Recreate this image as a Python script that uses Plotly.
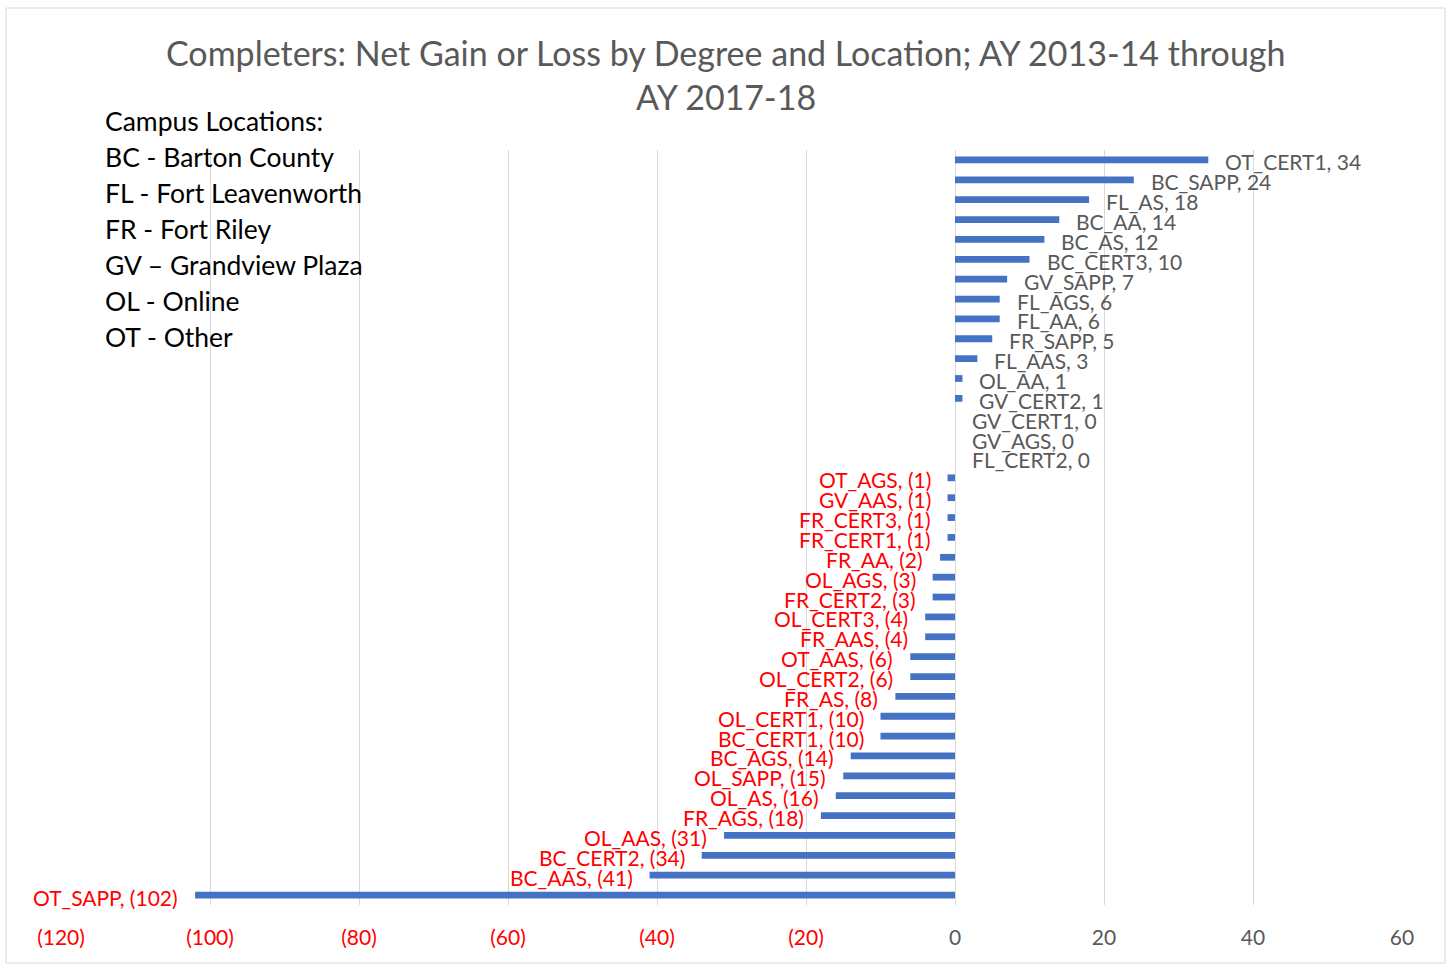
import plotly.graph_objects as go

categories = ["OT_CERT1", "BC_SAPP", "FL_AS", "BC_AA", "BC_AS", "BC_CERT3", "GV_SAPP",
              "FL_AGS", "FL_AA", "FR_SAPP", "FL_AAS", "OL_AA", "GV_CERT2", "GV_CERT1",
              "GV_AGS", "FL_CERT2", "OT_AGS", "GV_AAS", "FR_CERT3", "FR_CERT1", "FR_AA",
              "OL_AGS", "FR_CERT2", "OL_CERT3", "FR_AAS", "OT_AAS", "OL_CERT2", "FR_AS",
              "OL_CERT1", "BC_CERT1", "BC_AGS", "OL_SAPP", "OL_AS", "FR_AGS", "OL_AAS",
              "BC_CERT2", "BC_AAS", "OT_SAPP"]
values = [34, 24, 18, 14, 12, 10, 7, 6, 6, 5, 3, 1, 1, 0, 0, 0, -1, -1, -1, -1, -2,
          -3, -3, -4, -4, -6, -6, -8, -10, -10, -14, -15, -16, -18, -31, -34, -41, -102]
tick_values = [-120, -100, -80, -60, -40, -20, 0, 20, 40, 60]
legend_lines = ["Campus Locations:", "BC - Barton County", "FL - Fort Leavenworth",
                "FR - Fort Riley", "GV \u2013 Grandview Plaza", "OL - Online", "OT - Other"]
title_lines = ["Completers: Net Gain or Loss by Degree and Location; AY 2013-14 through",
               "AY 2017-18"]

FONT = "Lato"
GRAY = "#595959"
RED = "#FF0000"

# plot area in pixels
L, R, T, B = 61, 1402, 150, 905
W, H = R - L, B - T


def fmt(v):
    return f"({abs(v)})" if v < 0 else f"{v}"


fig = go.Figure()
fig.add_trace(go.Bar(
    y=categories, x=values, orientation="h",
    marker=dict(color="#4472C4", line=dict(width=0)),
    width=0.34, hoverinfo="x+y",
))

annotations = []
for c, v in zip(categories, values):
    neg = v < 0
    annotations.append(dict(
        x=v, y=c, xref="x", yref="y",
        text=f"{c}, {fmt(v)}", showarrow=False,
        xanchor="right" if neg else "left",
        xshift=-15 if neg else 15, yshift=-2,
        font=dict(family=FONT, size=21, color=RED if neg else GRAY),
    ))

# title lines
for i, t in enumerate(title_lines):
    annotations.append(dict(
        x=(726 - L) / W, y=(B - (52 + 45 * i)) / H, xref="paper", yref="paper",
        text=t, showarrow=False, xanchor="center", yanchor="middle",
        font=dict(family=FONT, size=34, color=GRAY),
    ))

# campus location key
for i, t in enumerate(legend_lines):
    annotations.append(dict(
        x=(103 - L) / W, y=(B - (121 + 36 * i)) / H, xref="paper", yref="paper",
        text=t, showarrow=False, xanchor="left", yanchor="middle",
        font=dict(family=FONT, size=26.5, color="#000000"),
    ))

tick_text = [f"<span style='color:{RED}'>{fmt(t)}</span>" if t < 0 else fmt(t)
             for t in tick_values]

fig.update_layout(
    width=1452, height=964,
    margin=dict(l=L, r=1452 - R, t=T, b=964 - B),
    paper_bgcolor="white", plot_bgcolor="white",
    showlegend=False,
    font=dict(family=FONT, color=GRAY),
    xaxis=dict(
        range=[-120, 60], tickvals=tick_values, ticktext=tick_text,
        showgrid=True, gridcolor="#D9D9D9", gridwidth=1.3,
        zeroline=True, zerolinecolor="#D9D9D9", zerolinewidth=1.3,
        showline=False, ticks="", ticklabelstandoff=18,
        tickfont=dict(family=FONT, size=21, color=GRAY),
    ),
    yaxis=dict(
        categoryorder="array", categoryarray=categories,
        range=[len(categories) - 0.5, -0.5], autorange=False,
        showticklabels=False, showgrid=False, zeroline=False, ticks="",
    ),
    annotations=annotations,
    shapes=[dict(
        type="rect", xref="paper", yref="paper",
        x0=(6 - L) / W, x1=(1445 - L) / W,
        y0=(B - 963) / H, y1=(B - 8) / H,
        line=dict(color="#D9D9D9", width=1), layer="below",
    )],
)

fig.write_html("out.html", config={"displayModeBar": False},
               post_script="document.body.style.margin='0';document.body.style.overflow='hidden';")
